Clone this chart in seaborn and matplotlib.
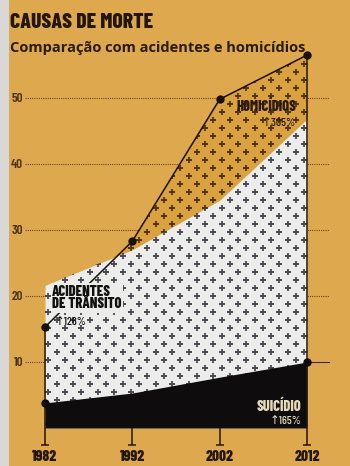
import matplotlib
matplotlib.use("Agg")
import matplotlib.pyplot as plt
import seaborn as sns
import numpy as np
import pandas as pd
from matplotlib.patches import Rectangle

# ---- data ----
years = [1982, 1992, 2002, 2012]
homicidios = [15.3, 28.3, 49.8, 56.5]
acidentes = [21.6, 27.0, 34.5, 46.8]
suicidio = [3.8, 5.3, 7.7, 10.0]
y_ticks = [10, 20, 30, 40, 50]
x_labels = ["1982", "1992", "2002", "2012"]

title = "CAUSAS DE MORTE"
subtitle = "Comparação com acidentes e homicídios"
lab_hom = "HOMICÍDIOS"
pct_hom = "↑305%"
lab_aci = "ACIDENTES\nDE TRÂNSITO"
pct_aci = "↑126%"
lab_sui = "SUICÍDIO"
pct_sui = "↑165%"

df = pd.DataFrame({"ano": years, "hom": homicidios, "aci": acidentes, "sui": suicidio})

sns.set_style("white")
COND = ["Barlow Condensed", "Roboto Condensed", "DejaVu Sans"]
plt.rcParams["font.family"] = COND

BG = "#dea84e"
HOMC = "#d9a140"
DARK = "#24170a"

fig = plt.figure(figsize=(3.5, 4.66), dpi=100, facecolor=BG)
fig.patches.append(Rectangle((0, 0), 9 / 350, 1, transform=fig.transFigure,
                             facecolor="#d9d8d6", edgecolor="none", zorder=0))
ax = fig.add_axes([25 / 350, 1 - 447 / 466, 305 / 350, (447 - 45) / 466])
ax.set_facecolor(BG)

pxy = (307 - 45) / 30.0   # px per year
pxu = 6.6                 # px per unit
ax.set_xlim(1982 - 20 / pxy, 2012 + 23 / pxy)
ax.set_ylim(-(447 - 428) / pxu, (428 - 45) / pxu)

for s in ax.spines.values():
    s.set_visible(False)

# gridlines
for t in y_ticks:
    ax.axhline(t, color="#6a4618", lw=0.8, ls=(0, (1, 1)), zorder=0.5)
ax.set_yticks(y_ticks)
ax.set_yticklabels([str(t) for t in y_ticks], fontsize=9.5, fontweight="semibold",
                   color="#4a3418")
ax.tick_params(axis="y", length=0, pad=1.5)
ax.set_xticks(years)
ax.set_xticklabels(x_labels, fontsize=11, fontweight="heavy", color=DARK)
ax.tick_params(axis="x", length=0, pad=2)


def plus_pattern(poly, color, z):
    dx = 16.5 / pxy
    dy = 8.0 / pxu
    xs, ys = [], []
    row = 0
    y = 0.6
    while y < 60:
        off = (row % 2) * dx / 2
        x = 1980.5 + off
        while x < 2015:
            xs.append(x)
            ys.append(y)
            x += dx
        y += dy
        row += 1
    sc = ax.scatter(xs, ys, marker="+", s=17, linewidths=1.3, color=color, zorder=z)
    sc.set_clip_path(poly.get_paths()[0], ax.transData)


# homicide area (behind), accidents (white), suicide (black)
p_hom = ax.fill_between(df["ano"], 0, df["hom"], color=HOMC, lw=0, zorder=1)
plus_pattern(p_hom, "#553510", 1.1)
p_aci = ax.fill_between(df["ano"], 0, df["aci"], color="#ececea", lw=0, zorder=2)
plus_pattern(p_aci, "#4a4a55", 2.1)
ax.fill_between(df["ano"], 0, df["sui"], color="#0e0c0c", lw=0, zorder=3)

# axis frame lines / ticks
ybot = -2.6
ax.vlines([1982], ybot, homicidios[0], color=DARK, lw=1.1, zorder=4)
ax.vlines([2012], ybot, homicidios[-1], color=DARK, lw=1.1, zorder=4)
ax.vlines([1992, 2002], ybot, 0, color=DARK, lw=1.1, zorder=4)
for yr in years:
    ax.hlines(ybot, yr - 0.45, yr + 0.45, color=DARK, lw=1.1, zorder=4)
ax.plot([2012, 2014.6], [suicidio[-1], suicidio[-1]], color=DARK, lw=0.6, zorder=4)

# homicide line with markers
sns.lineplot(data=df, x="ano", y="hom", ax=ax, color="#1a1008", lw=1.1,
             marker="o", markersize=6, markeredgewidth=0, zorder=4.5)
sub = df.iloc[[0, -1]]
sns.scatterplot(data=sub, x="ano", y="sui", ax=ax, color="#0e0c0c", s=36,
                linewidth=0, zorder=4.5)
ax.set_xlabel("")
ax.set_ylabel("")


def X(px):
    return 1982 + (px - 45) / pxy


def Y(py):
    return (428 - py) / pxu


ax.text(X(296), Y(107), lab_hom, ha="right", va="center", fontsize=10.5,
        fontweight="heavy", color="#2a1a0a", zorder=6)
ax.text(X(296), Y(123), pct_hom, ha="right", va="center", fontsize=8.5,
        fontweight="medium", color="#2a1a0a", zorder=6)
ax.text(X(52), Y(298), lab_aci, ha="left", va="center", fontsize=10.5,
        fontweight="heavy", color="#111111", linespacing=0.9, zorder=6,
        bbox=dict(facecolor="#ececea", edgecolor="none", pad=1.0))
ax.text(X(55), Y(322), pct_aci, ha="left", va="center", fontsize=8.5,
        fontweight="medium", color="#111111", zorder=6)
ax.text(X(301), Y(407), lab_sui, ha="right", va="center", fontsize=10.5,
        fontweight="heavy", color="#e6dcb8", zorder=6)
ax.text(X(301), Y(421), pct_sui, ha="right", va="center", fontsize=8.5,
        fontweight="medium", color="#e6dcb8", zorder=6)

fig.text(10 / 350, 1 - 23 / 466, title, ha="left", va="center", fontsize=15.5,
         fontweight="heavy", color=DARK)
fig.text(10 / 350, 1 - 48 / 466, subtitle, ha="left", va="center", fontsize=10.5,
         fontweight="bold", color="#2a1c0c", family=["Open Sans", "DejaVu Sans"])

fig.savefig("out.png", dpi=100, facecolor=BG)
